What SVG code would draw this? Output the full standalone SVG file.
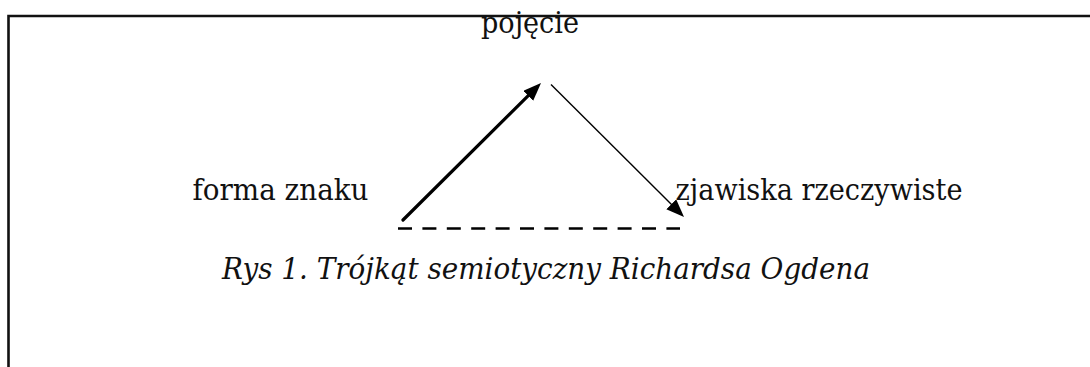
<svg xmlns="http://www.w3.org/2000/svg" width="1090" height="367" viewBox="0 0 1090 367">
  <style>
    .lbl { font-family: "DejaVu Serif", "Liberation Serif", serif; font-size: 30px; fill: #111; }
    .cap { font-family: "DejaVu Serif", "Liberation Serif", serif; font-size: 29px; font-style: italic; fill: #111; }
    .frame { stroke: #111; stroke-width: 2.6; fill: none; }
  </style>
  <defs>
    <marker id="headThick" markerUnits="userSpaceOnUse" markerWidth="20" markerHeight="16" refX="5" refY="7" orient="auto">
      <path d="M0,0 L18,7 L0,14 z" fill="#000"/>
    </marker>
    <marker id="headThin" markerUnits="userSpaceOnUse" markerWidth="20" markerHeight="16" refX="5" refY="7" orient="auto">
      <path d="M0,0 L18,7 L0,14 z" fill="#000"/>
    </marker>
  </defs>
  <rect width="1090" height="367" fill="#fff"/>
  <g id="frame">
    <path class="frame" d="M8.5,367 L8.5,16 L1090,16"/>
  </g>
  <g id="connectors">
    <line id="c1" x1="403" y1="220" x2="531.8" y2="92.2" stroke="#000" stroke-width="3.2" stroke-linecap="round" marker-end="url(#headThick)"/>
    <line id="c2" x1="551" y1="84.5" x2="674.8" y2="207.8" stroke="#000" stroke-width="1.4" marker-end="url(#headThin)"/>
    <line id="c3" x1="398" y1="228.5" x2="680" y2="228.5" stroke="#000" stroke-width="2.6" stroke-dasharray="14 10.4"/>
  </g>
  <g id="node-pojecie">
    <text class="lbl" x="481" y="33" textLength="98" lengthAdjust="spacingAndGlyphs">pojęcie</text>
  </g>
  <g id="node-forma">
    <text class="lbl" x="192.5" y="200" textLength="176" lengthAdjust="spacingAndGlyphs">forma znaku</text>
  </g>
  <g id="node-zjawiska">
    <text class="lbl" x="675.5" y="200" textLength="287" lengthAdjust="spacingAndGlyphs">zjawiska rzeczywiste</text>
  </g>
  <g id="caption">
    <text class="cap" x="222" y="279" textLength="648" lengthAdjust="spacingAndGlyphs">Rys 1. Trójkąt semiotyczny Richardsa Ogdena</text>
  </g>
</svg>
